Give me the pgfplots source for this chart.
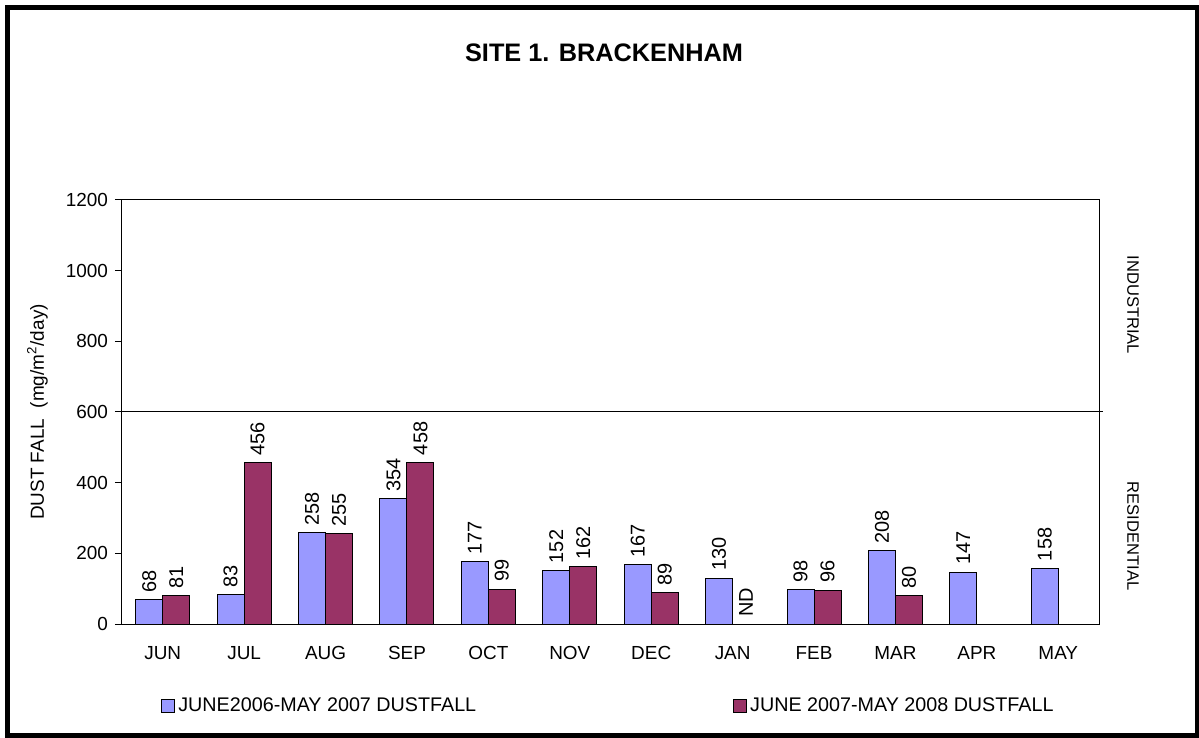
\documentclass[border=0pt]{standalone}
\usepackage{fontspec}
\setmainfont{Liberation Sans}
\usepackage{pgfplots}
\pgfplotsset{compat=1.18}
\definecolor{serA}{HTML}{9999FF}
\definecolor{serB}{HTML}{993366}
\newcommand\fn{\fontsize{9.5}{11}\selectfont}
\newcommand\fl{\fontsize{9.9}{12}\selectfont}
\newcommand\fv{\fontsize{10}{12}\selectfont}
\newcommand\fr{\fontsize{8.3}{10}\selectfont}

\begin{document}
\begin{tikzpicture}
\begin{axis}[
  scale only axis, width=488.5bp, height=212bp,
  clip=false,
  xmin=-0.5, xmax=11.5, ymin=0, ymax=1200,
  ybar=0pt, bar width=13.5bp,
  xtick={0,...,11},
  xticklabels={JUN,JUL,AUG,SEP,OCT,NOV,DEC,JAN,FEB,MAR,APR,MAY},
  minor xtick={-0.5,0.5,...,11.5},
  xtick style={draw=none},
  ytick={0,200,...,1200},
  tick align=outside, xtick pos=bottom, ytick pos=left,
  major tick length=3.5bp, minor tick length=3bp,
  every tick/.style={black, line width=0.5bp},
  axis line style={line width=0.5bp},
  tick label style={font=\fn},
  xticklabel style={yshift=-4bp},
  /pgf/number format/assume math mode=true,
  /pgf/number format/set thousands separator={},
  ylabel={DUST FALL\ \ (mg/m\textsuperscript{2}/day)},
  ylabel style={at={(axis description cs:-0.0865,0.5)}, anchor=center, font=\fn},
  title={SITE 1. BRACKENHAM},
  title style={at={(axis description cs:0.4934,1)}, anchor=center, yshift=67.75bp,
    font=\fontsize{12.7}{14}\selectfont\bfseries},
  nodes near coords,
  nodes near coords style={rotate=90, anchor=west, font=\fv, black},
  legend columns=2,
  legend style={at={(axis description cs:0.0399,-0.1934)}, anchor=west,
    draw=none, fill=none, inner sep=0pt, font=\fl,
    nodes={inner xsep=1.5bp},
    /tikz/every even column/.append style={column sep=127bp}},
]
\addplot[fill=serA, draw=black, line width=0.5bp,
  legend image code/.code={\draw[fill=serA,draw=black,line width=0.5bp] (0bp,-3.25bp) rectangle (6.5bp,3.25bp);}]
  coordinates {(0,68) (1,83) (2,258) (3,354) (4,177) (5,152) (6,167) (7,130) (8,98) (9,208) (10,147) (11,158)};
\addlegendentry{JUNE2006-MAY 2007 DUSTFALL}
\addplot[fill=serB, draw=black, line width=0.5bp,
  legend image code/.code={\draw[fill=serB,draw=black,line width=0.5bp] (0bp,-3.25bp) rectangle (6.5bp,3.25bp);}]
  coordinates {(0,81) (1,456) (2,255) (3,458) (4,99) (5,162) (6,89) (8,96) (9,80)};
\addlegendentry{JUNE 2007-MAY 2008 DUSTFALL}
\draw[black, line width=0.5bp] (axis cs:-0.5,600) -- ([xshift=2bp]axis cs:11.5,600);
\node[rotate=90, anchor=west, font=\fv] at ([xshift=6.75bp]axis cs:7,0) {ND};
\node[rotate=-90, font=\fr] at ([xshift=17bp]rel axis cs:1,0.7524) {INDUSTRIAL};
\node[rotate=-90, font=\fr] at ([xshift=17bp]rel axis cs:1,0.2075) {RESIDENTIAL};
\end{axis}
\draw[line width=2.25bp] (-57.25bp,-55.75bp) rectangle (537.5bp,308.25bp);
\pgfresetboundingbox
\path (-61bp,-57bp) rectangle (538.5bp,312bp);
\end{tikzpicture}
\end{document}
